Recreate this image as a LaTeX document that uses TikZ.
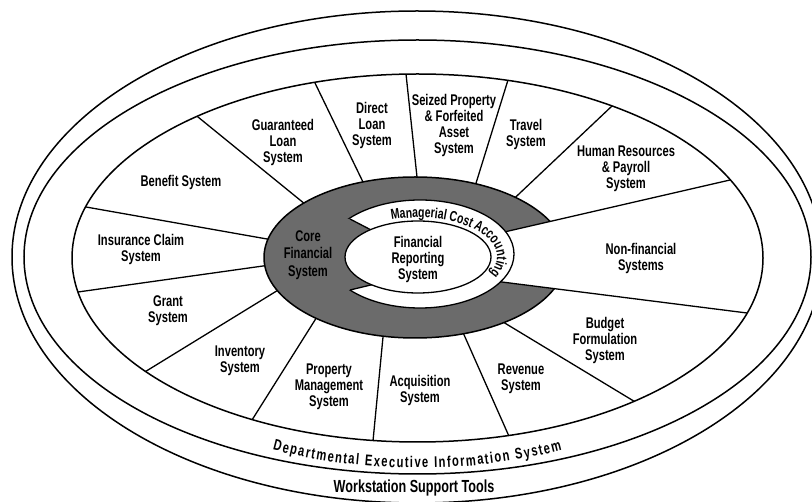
\documentclass[tikz,border=0pt]{standalone}
\usepackage{fontspec}
\newfontfamily\lab[FakeStretch=0.72]{Liberation Sans}
\usetikzlibrary{calc,decorations.text}
\definecolor{coregray}{gray}{0.42}
\begin{document}
\begin{tikzpicture}[x=1pt,y=-1pt,
  lbl/.style={font=\lab\bfseries\fontsize{15.5}{16}\selectfont,align=center,inner sep=0pt},
  ring/.style={line width=1.5pt},
  spk/.style={line width=1.3pt}]
\useasboundingbox (0,0) rectangle (812,502);
\fill[white] (0,0) rectangle (812,502);
\begin{scope}
\clip (0,0) rectangle (812,502);
% outer rings
\draw[ring] (417,257) ellipse [x radius=405pt, y radius=246pt];
\draw[ring] (417.5,257) ellipse [x radius=393.5pt, y radius=217pt];
% spokes
\coordinate (o1) at (198,117);  \coordinate (i1) at (300,200);
\coordinate (o2) at (315,83);   \coordinate (i2) at (362,180);
\coordinate (o3) at (406,74);   \coordinate (i3) at (417,177);
\coordinate (o4) at (508,80);   \coordinate (i4) at (477,180);
\coordinate (o5) at (612,106);  \coordinate (i5) at (520,193);
\coordinate (o8) at (632,400);  \coordinate (i8) at (508,325);
\coordinate (o9) at (508,434);  \coordinate (i9) at (465,337);
\coordinate (o10) at (373,441); \coordinate (i10) at (383,337);
\coordinate (o11) at (252,420); \coordinate (i11) at (315,320);
\coordinate (o12) at (148,370); \coordinate (i12) at (275,292);
\coordinate (o13) at (78,292);  \coordinate (i13) at (263,266);
\coordinate (o14) at (86,207);  \coordinate (i14) at (267,239);
\begin{scope}
\clip (417.5,258) ellipse [x radius=345.5pt, y radius=184pt];
\foreach \k in {1,2,3,4,5,8,9,10,11,12,13,14}
  \draw[spk] ($(o\k)!-0.05!(i\k)$) -- ($(o\k)!1.25!(i\k)$);
\end{scope}
% core financial system
\draw[ring,fill=coregray] (415,257.5) ellipse [x radius=151pt, y radius=80.5pt];
% non-financial wedge
\coordinate (n1o) at (730,180); \coordinate (n1i) at (490,235.3);
\coordinate (n2o) at (747,313); \coordinate (n2i) at (490,280.5);
\begin{scope}
\clip (417.5,258) ellipse [x radius=345.5pt, y radius=184pt];
\fill[white] ($(n1o)!-0.05!(n1i)$) -- (n1i) -- (n2i) -- ($(n2o)!-0.05!(n2i)$) -- (800,330) -- (800,170) -- cycle;
\draw[spk] ($(n1o)!-0.05!(n1i)$) -- (n1i);
\draw[spk] ($(n2o)!-0.05!(n2i)$) -- (n2i);
\end{scope}
\draw[ring] (417.5,258) ellipse [x radius=345.5pt, y radius=184pt];
% managerial cost accounting band
\draw[spk,fill=white] (420,254) ellipse [x radius=94pt, y radius=54pt];
\fill[coregray] (350,219) -- (375,232) -- (375,284) -- (350,290) -- (300,290) -- (300,219) -- cycle;
\draw[spk] (350,219) -- (375,232);
\draw[spk] (350,290) -- (375,284);
% financial reporting system
\draw[spk,fill=white] (418,257) ellipse [x radius=73pt, y radius=36pt];
\end{scope}
% labels
\node[lbl] (benefit) at (181,182.5) {Benefit System};
\node[lbl] (guar) at (283,142.5) {Guaranteed\\Loan\\System};
\node[lbl] (direct) at (372,125.5) {Direct\\Loan\\System};
\node[lbl] (seized) at (454,125.5) {Seized Property\\\& Forfeited\\Asset\\System};
\node[lbl] (travel) at (526,134) {Travel\\System};
\node[lbl] (hr) at (626,169) {Human Resources\\\& Payroll\\System};
\node[lbl] (nonfin) at (641,258) {Non-financial\\Systems};
\node[lbl] (budget) at (605,340.5) {Budget\\Formulation\\System};
\node[lbl] (revenue) at (521,378.5) {Revenue\\System};
\node[lbl] (acq) at (420,390) {Acquisition\\System};
\node[lbl] (prop) at (329,386.5) {Property\\Management\\System};
\node[lbl] (inv) at (240,360.5) {Inventory\\System};
\node[lbl] (grant) at (168,311) {Grant\\System};
\node[lbl] (ins) at (141,249.5) {Insurance Claim\\System};
\node[lbl,font=\lab\bfseries\fontsize{15.5}{17.5}\selectfont] (core) at (308,255) {Core\\Financial\\System};
\node[lbl] (frs) at (418,259.5) {Financial\\Reporting\\System};
\node[lbl,font=\lab\bfseries\fontsize{17.5}{18}\selectfont] (ws) at (414,487.5) {Workstation Support Tools};
% curved labels
\path[decorate,decoration={text along path,
  text={|\lab\bfseries\fontsize{14.5}{16}\selectfont|Managerial Cost Accounting},
  text align=center}]
  plot[domain=-120:38,samples=140] ({419+78*cos(\x)},{257+39.5*sin(\x)});
\path[decorate,decoration={text along path,
  text={|\lab\bfseries\fontsize{15.5}{16}\selectfont|Departmental Executive Information System},
  text align={fit to path}}]
  plot[domain=0:1,samples=120] ({417.5+356*cos(114-48*\x)},{258+210*sin(114-48*\x)});
\end{tikzpicture}
\end{document}
